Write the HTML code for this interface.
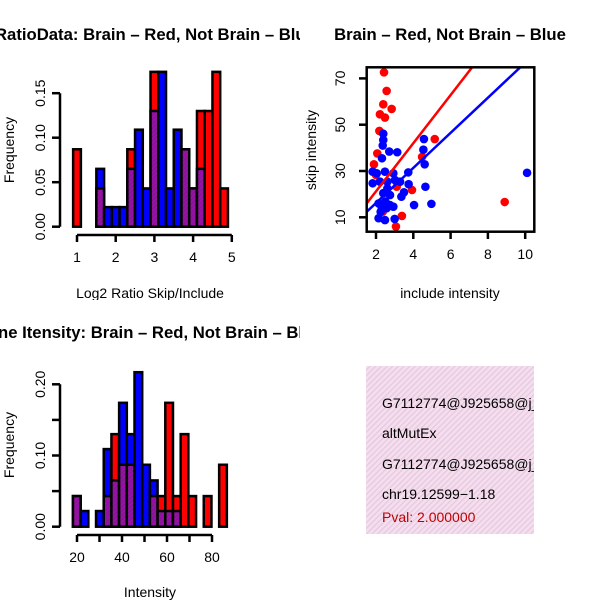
<!DOCTYPE html>
<html><head><meta charset="utf-8"><style>
html,body{margin:0;padding:0;background:#fff;width:600px;height:600px;overflow:hidden}
svg{display:block;font-family:"Liberation Sans",sans-serif}
</style></head><body>
<svg id="c" width="600" height="600" viewBox="0 0 600 600">
<defs>
<clipPath id="cl1"><rect x="0" y="0" width="300" height="300"/></clipPath>
<clipPath id="cl3"><rect x="0" y="300" width="300" height="300"/></clipPath>
<clipPath id="cl2"><rect x="366" y="67" width="168" height="165"/></clipPath>
<clipPath id="cl4"><rect x="366" y="366" width="168" height="168"/></clipPath>
<pattern id="hatch" width="4" height="4" patternUnits="userSpaceOnUse" patternTransform="rotate(45)"><rect width="4" height="4" fill="#f7dcf2"/><rect width="1.2" height="4" fill="#e0ccd6"/></pattern>
<pattern id="phatch" width="3" height="3" patternUnits="userSpaceOnUse" patternTransform="rotate(45)"><rect width="3" height="3" fill="#9a10a8"/><rect width="1" height="3" fill="#7a1a8a"/></pattern>
</defs>
<g id="p1" clip-path="url(#cl1)"></g>
<g id="p2"></g>
<g id="p3" clip-path="url(#cl3)"></g>
<g>
<rect x="366" y="366" width="168" height="168" fill="url(#hatch)"/>
<g clip-path="url(#cl4)" font-size="14">
<text x="382" y="408">G7112774@J925658@j_</text>
<text x="382" y="438">altMutEx</text>
<text x="382" y="469">G7112774@J925658@j_</text>
<text x="382" y="499">chr19.12599−1.18</text>
<text x="382" y="522" fill="#c00000">Pval: 2.000000</text>
</g></g>
</svg>
<script>
// ---- Histogram 1: Log2 ratio ----
const h1Start = 0.9, h1Width = 0.2;
const h1Red  = [0.087,0,0,0.043,0,0,0,0.087,0,0,0.174,0,0,0,0.087,0.043,0.13,0.13,0.174,0.043];
const h1Blue = [0,0,0,0.065,0.022,0.022,0.022,0.065,0.109,0.043,0.13,0.174,0.043,0.109,0.087,0.043,0.065,0,0,0];
const h1XTicks = [1,2,3,4,5];
const h1YTicks = [0,0.05,0.10,0.15];
const h1YLabels = ["0.00","0.05","0.10","0.15"];
// ---- Histogram 2: Intensity ----
const h2Start = 18.2, h2Width = 3.42;
const h2Red  = [0.043,0,0,0,0.043,0.13,0.087,0.087,0,0,0.043,0.043,0.174,0.043,0.13,0.043,0,0.043,0,0.087];
const h2Blue = [0.043,0.022,0,0.022,0.109,0.065,0.174,0.13,0.217,0.087,0.065,0.022,0.022,0.022,0,0,0,0,0,0];
const h2XTicks = [20,30,40,50,60,70,80];
const h2XLabels = ["20","","40","","60","","80"];
const h2YTicks = [0,0.05,0.10,0.15,0.20];
const h2YLabels = ["0.00","","0.10","","0.20"];
// ---- Scatter ----
const redX = [2.43,2.57,2.39,2.84,2.21,2.48,2.18,2.07,1.89,5.15,4.47,3.93,3.39,3.07,8.9,2.36,3.11,2.0];
const redY = [72.6,64.6,58.8,56.8,54.5,53.1,47.3,37.6,32.9,43.8,36.1,21.8,10.6,6.0,16.6,12.4,23.2,28.3];
const blueX = [2.39,2.39,2.36,2.71,3.14,4.57,4.54,4.61,2.32,1.82,2.04,2.48,2.93,3.73,1.82,2.21,2.61,3.02,3.29,3.75,3.5,3.36,2.61,2.39,2.75,2.5,2.14,2.3,2.75,2.93,2.25,2.14,2.48,3.0,4.04,4.65,4.97,10.1,2.57];
const blueY = [46.1,43.4,41.0,38.4,38.1,43.8,39.2,32.9,35.5,29.7,29.0,29.7,29.0,29.4,24.7,25.4,25.4,26.1,25.4,24.3,20.8,18.9,22.5,20.4,19.6,16.8,16.0,14.6,15.3,14.6,12.4,9.6,8.8,9.3,15.3,23.2,15.8,29.2,13.9];
const redFit = [0.4,10.4];   // intercept, slope
const blueFit = [1.0,7.58];
const scXTicks = [2,4,6,8,10];
const scYTicks = [10,30,50,70];

const NS="http://www.w3.org/2000/svg";
function mk(parent,tag,attrs,text){const e=document.createElementNS(NS,tag);for(const k in attrs)e.setAttribute(k,attrs[k]);if(text!==undefined)e.textContent=text;parent.appendChild(e);return e;}

function hist(g,o){
  const X=v=>o.x0+(v-o.xv0)*o.xs, Y=v=>o.y0-v*o.ys;
  for(let i=0;i<o.red.length;i++){
    const a=o.start+i*o.width,b=a+o.width,r=o.red[i],bl=o.blue[i];
    const mx=Math.max(r,bl),mn=Math.min(r,bl);
    if(mx<=0)continue;
    const x1=X(a),x2=X(b);
    const top=mk(g,'rect',{x:x1,y:Y(mx),width:x2-x1,height:Y(0)-Y(mx),fill:r>=bl?'#ff0000':'#0000ff',stroke:'#000','stroke-width':2.5});
    
    
    if(mn>0){
      const ov=mk(g,'rect',{x:x1,y:Y(mn),width:x2-x1,height:Y(0)-Y(mn),fill:'url(#phatch)',stroke:'#000','stroke-width':2.5});
      
      
    }
  }
  const ya=mk(g,'line',{x1:60,x2:60,y1:Y(o.yt[0]),y2:Y(o.yt[o.yt.length-1]),stroke:'#000','stroke-width':2.5});
  
  
  o.yt.forEach((t,i)=>{
    mk(g,'line',{x1:52,x2:60,y1:Y(t),y2:Y(t),stroke:'#000','stroke-width':2.5});
    if(o.yl[i]){const tx=mk(g,'text',{x:45,y:Y(t),'font-size':14,'text-anchor':'middle',transform:`rotate(-90 45 ${Y(t)})`},o.yl[i]);
    
    }
  });
  const xa=mk(g,'line',{x1:X(o.xt[0]),x2:X(o.xt[o.xt.length-1]),y1:o.axY,y2:o.axY,stroke:'#000','stroke-width':2.5});
  
  
  o.xt.forEach((t,i)=>{
    mk(g,'line',{x1:X(t),x2:X(t),y1:o.axY,y2:o.axY+7,stroke:'#000','stroke-width':2.5});
    if(o.xl[i]){const tx=mk(g,'text',{x:X(t),y:o.axY+27,'font-size':14,'text-anchor':'middle'},o.xl[i]);
    
    }
  });
}

const p1=document.getElementById('p1');
hist(p1,{id:'ratio',red:h1Red,blue:h1Blue,start:h1Start,width:h1Width,x0:77,xv0:1,xs:38.7,y0:226.7,ys:44.5/0.05,axY:235,xt:h1XTicks,xl:h1XTicks.map(String),yt:h1YTicks,yl:h1YLabels});
let t=mk(p1,'text',{x:-5,y:40,'font-size':16.7,'font-weight':'bold'},'RatioData: Brain – Red, Not Brain – Blue');

t=mk(p1,'text',{x:150,y:298,'font-size':14,'text-anchor':'middle'},'Log2 Ratio Skip/Include');

t=mk(p1,'text',{x:14,y:150,'font-size':14,'text-anchor':'middle',transform:'rotate(-90 14 150)'},'Frequency');


const p3=document.getElementById('p3');
hist(p3,{id:'intensity',red:h2Red,blue:h2Blue,start:h2Start,width:h2Width,x0:77,xv0:20,xs:2.25,y0:526.7,ys:35.6/0.05,axY:535,xt:h2XTicks,xl:h2XLabels,yt:h2YTicks,yl:h2YLabels});
t=mk(p3,'text',{x:-2,y:338,'font-size':16.7,'font-weight':'bold'},'ne Itensity: Brain – Red, Not Brain – Blue');

t=mk(p3,'text',{x:150,y:597,'font-size':14,'text-anchor':'middle'},'Intensity');

t=mk(p3,'text',{x:14,y:445,'font-size':14,'text-anchor':'middle',transform:'rotate(-90 14 445)'},'Frequency');


// scatter
const p2=document.getElementById('p2');
const SX=v=>376+(v-2)*18.65, SY=v=>217.3-(v-10)*2.315;
const inner=mk(p2,'g',{'clip-path':'url(#cl2)'});
redX.forEach((x,i)=>{const c=mk(inner,'circle',{cx:SX(x),cy:SY(redY[i]),r:4.3,fill:'#ff0000'});
});
blueX.forEach((x,i)=>{const c=mk(inner,'circle',{cx:SX(x),cy:SY(blueY[i]),r:4.3,fill:'#0000ff'});
});
[[redFit,'#ff0000','fit-line-brain'],[blueFit,'#0000ff','fit-line-not-brain']].forEach(([f,col,nm])=>{
  const l=mk(inner,'line',{x1:SX(1),y1:SY(f[0]+f[1]*1),x2:SX(11),y2:SY(f[0]+f[1]*11),stroke:col,'stroke-width':2.5});
  
});
const box=mk(p2,'rect',{x:366.7,y:67.3,width:167.6,height:164.4,fill:'none',stroke:'#000','stroke-width':2.5});

scXTicks.forEach(v=>{mk(p2,'line',{x1:SX(v),x2:SX(v),y1:232,y2:239,stroke:'#000','stroke-width':2.5});
 const tx=mk(p2,'text',{x:SX(v),y:259,'font-size':14,'text-anchor':'middle'},String(v));
 });
scYTicks.forEach(v=>{mk(p2,'line',{x1:359,x2:366.7,y1:SY(v),y2:SY(v),stroke:'#000','stroke-width':2.5});
 const tx=mk(p2,'text',{x:345,y:SY(v),'font-size':14,'text-anchor':'middle',transform:`rotate(-90 345 ${SY(v)})`},String(v));
 });
t=mk(p2,'text',{x:450,y:40,'font-size':16.7,'font-weight':'bold','text-anchor':'middle'},'Brain – Red, Not Brain – Blue');

t=mk(p2,'text',{x:450,y:298,'font-size':14,'text-anchor':'middle'},'include intensity');

t=mk(p2,'text',{x:316,y:150,'font-size':14,'text-anchor':'middle',transform:'rotate(-90 316 150)'},'skip intensity');

</script>
</body></html>
